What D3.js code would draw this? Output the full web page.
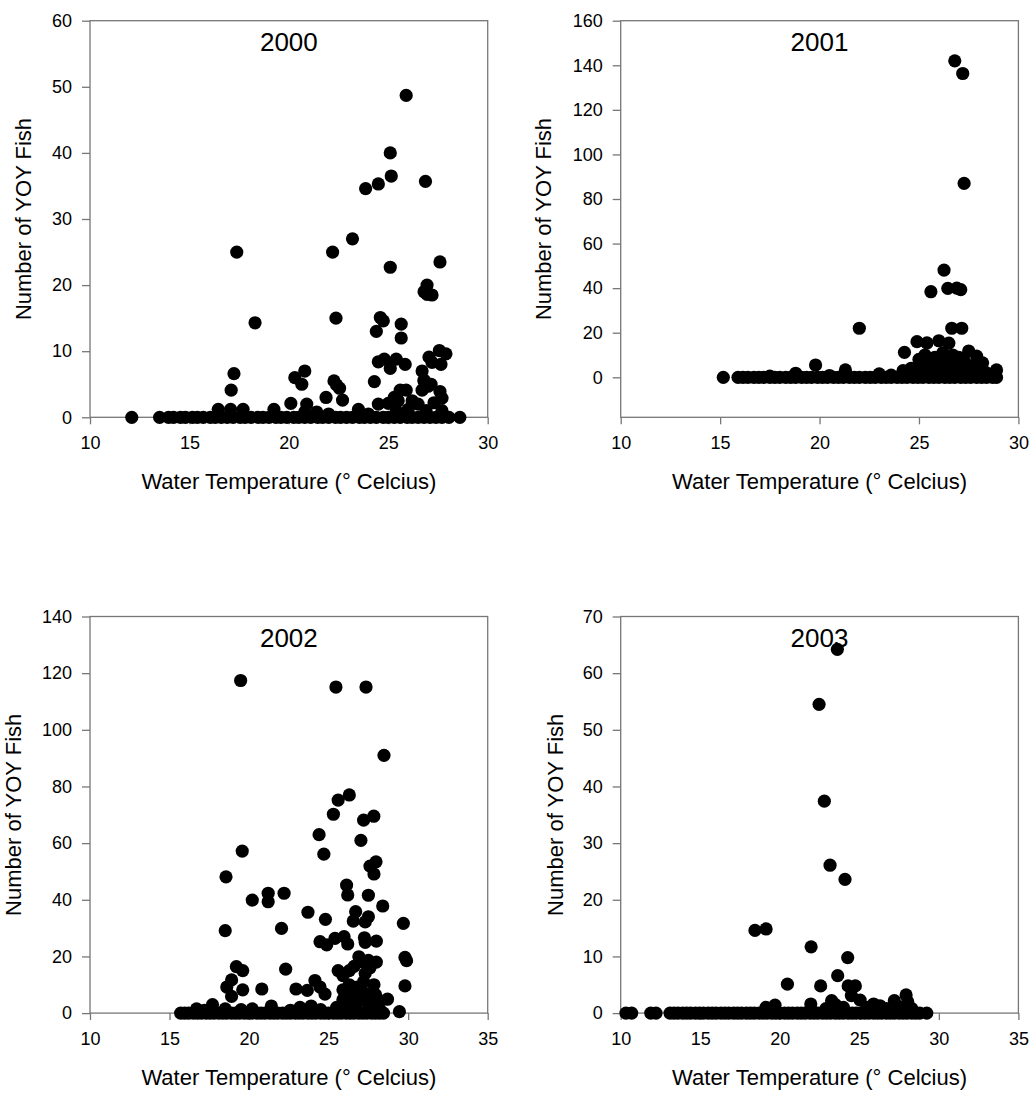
<!DOCTYPE html>
<html>
<head>
<meta charset="utf-8">
<script src="https://cdn.jsdelivr.net/npm/d3@7"></script>
<style>
  body { margin: 0; background: #fff; }
  svg { display: block; }
  text { font-family: "Liberation Sans", Arial, sans-serif; fill: #000; }
</style>
</head>
<body>
<svg id="chart" width="1034" height="1093"></svg>
<script>
// year panels, [water temp, number of YOY fish]
const pts2000 = [[25.9,48.7],[25.1,40.0],[25.15,36.5],[24.5,35.3],[23.86,34.6],[26.87,35.7],[23.2,27.0],[17.38,25.0],
  [22.2,25.0],[25.1,22.7],[27.6,23.5],[26.95,20.0],[26.8,19.0],[27.2,18.5],[26.95,18.6],[18.3,14.3],[22.37,15.0],
  [24.6,15.1],[24.75,14.6],[24.4,13.0],[25.65,14.1],[25.65,12.0],[27.57,10.1],[27.9,9.6],[27.05,9.1],[27.65,8.0],
  [27.2,8.3],[24.5,8.4],[24.8,8.8],[25.1,7.4],[25.4,8.8],[25.85,8.0],[26.7,7.0],[26.8,5.6],[27.15,5.0],[17.24,6.6],
  [17.1,4.1],[20.3,6.0],[20.8,7.0],[20.65,5.0],[22.27,5.5],[22.4,4.9],[22.55,4.4],[21.87,3.0],[22.7,2.6],[20.1,2.1],
  [20.9,2.0],[24.3,5.4],[26.8,5.5],[27.0,4.7],[25.6,4.1],[25.9,4.1],[26.7,4.1],[27.6,3.9],[27.7,2.9],[24.5,2.0],
  [25.0,2.1],[25.3,3.0],[25.5,2.5],[26.2,2.5],[27.3,2.2],[26.5,2.0],[16.45,1.2],[17.07,1.2],[17.7,1.2],[19.25,1.2],
  [23.5,1.2],[21.4,0.8],[20.8,0.8],[25.4,1.0],[26.0,1.2],[26.9,1.0],[27.7,1.0],[24.0,0.5],[22.0,0.5]];
const zero2000 = [12.1,13.5,13.95,14.2,14.55,14.8,15.15,15.4,15.7,16.05,16.3,16.6,16.9,17.2,17.55,17.8,18.1,18.45,
  18.7,19.0,19.35,19.6,19.9,20.25,20.5,20.8,21.1,21.45,21.7,22.0,22.35,22.6,22.9,23.2,23.55,23.8,24.1,24.4,24.75,
  25.0,25.3,25.6,25.95,26.2,26.5,26.8,27.1,27.4,27.7,28.05,28.6];

const pts2001 = [[26.8,142],[27.2,136.3],[27.27,87],[26.26,48.1],[25.6,38.4],[26.45,39.9],[26.9,40],[27.1,39.3],
  [26.65,22],[27.15,22],[22.0,22],[19.8,5.5],[24.27,11.2],[24.9,16],[25.4,15.4],[26.0,16.4],[26.5,15.3],[27.5,11.8],
  [27.9,9.5],[28.2,6.5],[28.9,3.3],[21.3,3.3],[24.2,3.0],[23.0,1.5],[18.8,1.8],[25.0,8],[25.0,5],[25.3,10],[25.5,6],
  [25.8,9],[26.0,6],[26.2,11],[26.4,8],[26.6,4],[26.8,7],[27.0,5],[27.3,7],[27.5,4],[27.7,5],[28.0,3],[28.3,2.5],
  [24.6,4],[25.2,2.5],[26.1,2.5],[27.0,2],[28.5,1.5],[20.5,0.8],[23.6,1],[17.5,0.5],[25.3,4],[25.6,3],[25.9,5],
  [26.2,7],[26.5,3],[26.9,3],[27.2,3],[25.6,7.5],[26.7,10],[27.0,9],[25.4,2],[26.3,5]];
const zero2001 = [15.16,15.9,16.15,16.4,16.7,16.95,17.2,17.5,17.75,18.0,18.3,18.55,18.8,19.1,19.35,19.6,19.9,20.15,
  20.4,20.7,20.95,21.2,21.5,21.75,22.0,22.3,22.55,22.8,23.1,23.35,23.6,23.9,24.15,24.4,24.7,24.95,25.2,25.5,25.75,
  26.0,26.3,26.55,26.8,27.1,27.35,27.6,27.9,28.15,28.4,28.7,28.9];

const pts2002 = [[19.47,117.4],[25.46,115.1],[27.35,115.1],[28.48,91],[26.3,77],[25.6,75.2],[25.3,70.2],[27.2,68.1],
  [27.84,69.5],[24.4,63],[27.03,61],[19.57,57.2],[24.7,56.1],[27.98,53.4],[27.6,51.9],[27.85,49.1],[18.55,48.1],
  [26.13,45.2],[26.2,41.7],[27.5,41.6],[21.2,42.3],[21.2,39.3],[22.2,42.3],[20.2,39.9],[28.4,37.8],[23.7,35.6],
  [26.7,35.8],[26.55,32.5],[27.5,34],[27.3,32.2],[24.8,33.1],[29.7,31.7],[18.5,29.1],[22.04,29.9],[24.46,25.2],
  [24.88,24.1],[25.4,26.4],[25.97,27.0],[26.2,24.4],[27.25,26.6],[27.3,25.0],[28.0,25.4],[26.9,19.9],[27.1,18.2],
  [27.5,18.6],[28.0,18],[29.8,19.7],[29.9,18.5],[22.3,15.5],[19.2,16.4],[19.6,15.0],[25.6,15.0],[26.3,15],[26.6,16.5],
  [25.9,13.2],[27.3,14],[27.6,16],[29.8,9.6],[29.45,0.5],[18.9,11.7],[18.6,9.2],[18.9,5.9],[19.6,8.2],[20.8,8.5],
  [22.95,8.5],[23.66,8],[24.14,11.5],[24.46,9.2],[24.77,6.7],[25.9,8.2],[26.3,10],[26.8,9.2],[27.2,11.1],[27.85,10],
  [27.95,6.5],[25.9,4.7],[26.5,5.3],[27.0,5.9],[27.4,4.1],[28.1,4.7],[28.7,4.9],[16.7,1.5],[17.7,3],[18.5,1.5],
  [19.5,1.2],[20.2,1.5],[21.4,2.5],[23.2,2],[23.9,2.5],[24.5,1.2],[25.5,2],[26.2,2.5],[27.6,2],[28.2,1.5],[17.2,1.0],
  [22.6,1.0],[26.0,3],[26.7,2.5],[27.3,7],[25.7,1.5],[26.4,6.5],[27.7,3]];
const zero2002 = [15.7,15.95,16.2,16.5,16.75,17.0,17.3,17.55,17.8,18.1,18.35,18.6,18.9,19.15,19.4,19.7,19.95,20.2,
  20.5,20.75,21.0,21.3,21.55,21.8,22.1,22.35,22.6,22.9,23.15,23.4,23.7,23.95,24.2,24.5,24.75,25.0,25.3,25.55,25.8,
  26.1,26.35,26.6,26.9,27.15,27.4,27.7,27.95,28.2,28.45];

const pts2003 = [[23.62,64.2],[22.47,54.5],[22.8,37.4],[23.16,26.1],[24.1,23.6],[18.44,14.6],[19.14,14.85],
  [21.97,11.7],[24.27,9.8],[23.64,6.6],[20.48,5.1],[22.57,4.8],[24.3,4.8],[24.75,4.8],[24.5,3.1],[25.05,2.3],
  [21.95,1.6],[23.26,2.2],[25.9,1.6],[26.3,1.3],[27.2,2.2],[27.94,3.2],[28.04,2.0],[19.13,1.0],[19.7,1.4],[22.9,0.8],
  [23.5,1.5],[24.0,1.0],[25.5,1.0],[26.7,0.8],[27.6,1.0],[28.3,0.8]];
const zero2003 = [10.33,10.69,11.89,12.22,13.1,13.35,13.6,13.9,14.15,14.4,14.7,14.95,15.2,15.5,15.75,16.0,16.3,
  16.55,16.8,17.1,17.35,17.6,17.9,18.15,18.4,18.7,18.95,19.2,19.5,19.75,20.0,20.3,20.55,20.8,21.1,21.35,21.6,21.9,
  22.15,22.4,22.7,22.95,23.2,23.5,23.75,24.0,24.3,24.55,24.8,25.1,25.35,25.6,25.9,26.15,26.4,26.7,26.95,27.2,27.5,
  27.75,28.0,28.3,28.55,28.8,29.24];

const xTicks30 = [10, 15, 20, 25, 30];
const xTicks35 = [10, 15, 20, 25, 30, 35];
const yTicks2000 = [0, 10, 20, 30, 40, 50, 60];
const yTicks2001 = [0, 20, 40, 60, 80, 100, 120, 140, 160];
const yTicks2002 = [0, 20, 40, 60, 80, 100, 120, 140];
const yTicks2003 = [0, 10, 20, 30, 40, 50, 60, 70];

const xTitle = "Water Temperature (° Celcius)";
const yTitle = "Number of YOY Fish";

const W = 397.7, H = 396.6, gray = "#777";

const panels = [
  {year: "2000", pts: pts2000, zeros: zero2000, left: 90, top: 20.7, xd: [10, 30], xt: xTicks30, yd: [0, 60], yt: yTicks2000, ygap: 59},
  {year: "2001", pts: pts2001, zeros: zero2001, left: 620.7, top: 20.7, xd: [10, 30], xt: xTicks30, yd: [-17.95, 160], yt: yTicks2001, ygap: 70},
  {year: "2002", pts: pts2002, zeros: zero2002, left: 90, top: 616.5, xd: [10, 35], xt: xTicks35, yd: [0, 140], yt: yTicks2002, ygap: 69},
  {year: "2003", pts: pts2003, zeros: zero2003, left: 620.7, top: 616.5, xd: [10, 35], xt: xTicks35, yd: [0, 70], yt: yTicks2003, ygap: 58}
];

const svg = d3.select("#chart");

panels.forEach(function(p) {
  const gx = d3.scaleLinear().domain(p.xd).range([0, W]);
  const gy = d3.scaleLinear().domain(p.yd).range([H, 0]);
  const g = svg.append("g").attr("transform", "translate(" + p.left + "," + p.top + ")");

  g.append("rect")
    .attr("width", W).attr("height", H)
    .attr("fill", "none").attr("stroke", gray).attr("stroke-width", 1.3);

  const ax = g.append("g")
    .attr("transform", "translate(0," + H + ")")
    .call(d3.axisBottom(gx).tickValues(p.xt).tickSize(7).tickPadding(12));
  const ay = g.append("g")
    .call(d3.axisLeft(gy).tickValues(p.yt).tickSize(8).tickPadding(10));

  [ax, ay].forEach(function(a) {
    a.select(".domain").remove();
    a.selectAll("line").attr("stroke", gray).attr("stroke-width", 1.3);
    a.selectAll("text").style("font-size", "18px").style("font-family", "'Liberation Sans', Arial, sans-serif").attr("fill", "#000");
  });

  let dataset = p.zeros.map(function(t) { return [t, 0]; }).concat(p.pts);

  g.selectAll("circle.dot")
    .data(dataset)
    .enter()
    .append("circle")
    .attr("class", "dot")
    .attr("cx", function(d) { return gx(d[0]); })
    .attr("cy", function(d) { return gy(d[1]); })
    .attr("r", 6.6)
    .attr("fill", "#000");

  g.append("text")
    .attr("x", W / 2).attr("y", 30.5)
    .attr("text-anchor", "middle")
    .style("font-size", "26px")
    .text(p.year);

  g.append("text")
    .attr("x", W / 2).attr("y", H + 72)
    .attr("text-anchor", "middle")
    .style("font-size", "22px")
    .text(xTitle);

  g.append("text")
    .attr("transform", "translate(" + (-p.ygap) + "," + (H / 2) + ") rotate(-90)")
    .attr("text-anchor", "middle")
    .style("font-size", "22px")
    .text(yTitle);
});
</script>
</body>
</html>
